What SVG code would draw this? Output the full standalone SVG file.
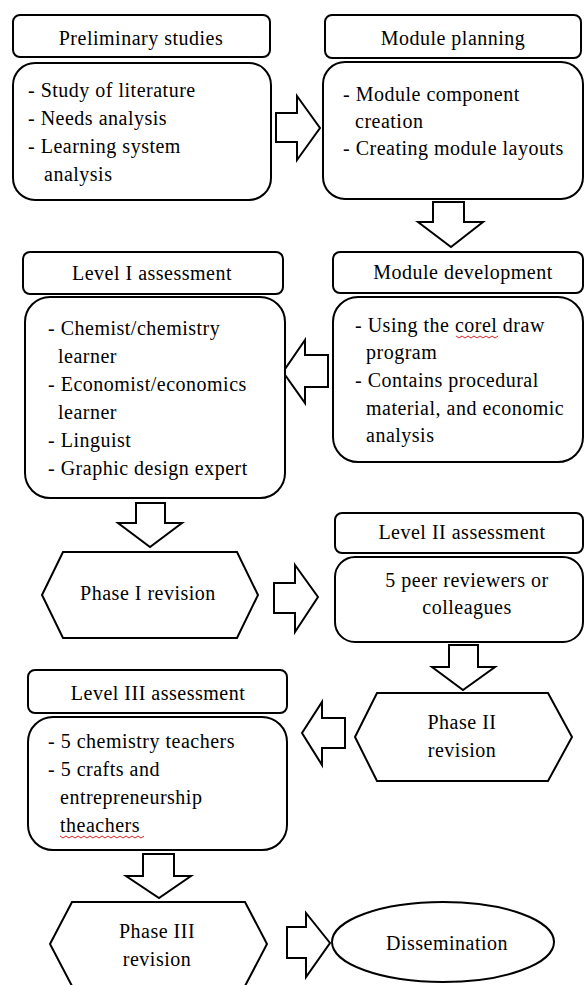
<svg xmlns="http://www.w3.org/2000/svg" width="585" height="985" viewBox="0 0 585 985">
<style>
.b{fill:#fff;stroke:#000;stroke-width:2}
.a{fill:#fff;stroke:#000;stroke-width:2;stroke-linejoin:miter}
text{font-family:"Liberation Serif","Times New Roman",serif;font-size:20px;fill:#000;letter-spacing:0.5px}
.c{text-anchor:middle}
.sq{fill:none;stroke:#e02020;stroke-width:1}
</style>
<rect width="585" height="985" fill="#fff"/>
<g id="connectors">
<polygon class="a" points="276,113 297,113 297,96 320,128 297,160 297,142 276,142"/>
<polygon class="a" points="433,202 464,202 464,222 483,222 451,247 418,222 433,222"/>
<polygon class="a" points="328,355 305,355 305,340 283,372 305,403 305,387 328,387"/>
<polygon class="a" points="136,503 165,503 165,523 182,523 150,547 118,523 136,523"/>
<polygon class="a" points="274,583 295,583 295,565 318,597 295,632 295,613 274,613"/>
<polygon class="a" points="449,645 478,645 478,667 495,667 463,690 432,667 449,667"/>
<polygon class="a" points="345,718 322,718 322,702 302,733 322,765 322,748 345,748"/>
<polygon class="a" points="143,854 174,854 174,876 191,876 159,898 126,876 143,876"/>
<polygon class="a" points="287,927 306,927 306,913 330,943 306,977 306,958 287,958"/>
</g>
<g id="preliminary">
<rect class="b" x="13" y="15" width="257" height="42" rx="7"/>
<text class="c" x="141" y="45">Preliminary studies</text>
<rect class="b" x="13" y="63" width="258" height="137" rx="22"/>
<text x="28" y="97">- Study of literature</text>
<text x="28" y="125">- Needs analysis</text>
<text x="28" y="153">- Learning system</text>
<text x="44" y="181">analysis</text>
</g>
<g id="planning">
<rect class="b" x="325" y="15" width="256" height="43" rx="7"/>
<text class="c" x="453" y="45">Module planning</text>
<rect class="b" x="323" y="62" width="260" height="137" rx="22"/>
<text x="343" y="101">- Module component</text>
<text x="355" y="128">creation</text>
<text x="343" y="155">- Creating module layouts</text>
</g>
<g id="level1">
<rect class="b" x="23" y="252" width="260" height="42" rx="7"/>
<text class="c" x="152" y="280">Level I assessment</text>
<rect class="b" x="25" y="297" width="260" height="201" rx="25"/>
<text x="48" y="335">- Chemist/chemistry</text>
<text x="58" y="363">learner</text>
<text x="48" y="391">- Economist/economics</text>
<text x="58" y="419">learner</text>
<text x="48" y="447">- Linguist</text>
<text x="48" y="475">- Graphic design expert</text>
</g>
<g id="development">
<rect class="b" x="333" y="252" width="250" height="41" rx="7"/>
<text class="c" x="463" y="279">Module development</text>
<rect class="b" x="333" y="297" width="250" height="165" rx="25"/>
<text x="355" y="332">- Using the corel draw</text>
<path class="sq" d="M456,336 l3,2 l3,-2 l3,2 l3,-2 l3,2 l3,-2 l3,2 l3,-2 l3,2 l3,-2 l3,2 l3,-2 l3,2 l3,-2"/>
<text x="366" y="359">program</text>
<text x="355" y="387">- Contains procedural</text>
<text x="366" y="415">material, and economic</text>
<text x="366" y="442">analysis</text>
</g>
<g id="phase1">
<polygon class="b" points="42,595 63,552 237,552 258,595 237,638 63,638"/>
<text class="c" x="148" y="600">Phase I revision</text>
</g>
<g id="level2">
<rect class="b" x="335" y="513" width="248" height="40" rx="7"/>
<text class="c" x="462" y="539">Level II assessment</text>
<rect class="b" x="335" y="557" width="248" height="85" rx="20"/>
<text class="c" x="467" y="587">5 peer reviewers or</text>
<text class="c" x="467" y="614">colleagues</text>
</g>
<g id="phase2">
<polygon class="b" points="355,737 377,693 548,693 572,737 548,781 377,781"/>
<text class="c" x="462" y="729">Phase II</text>
<text class="c" x="462" y="757">revision</text>
</g>
<g id="level3">
<rect class="b" x="28" y="670" width="259" height="43" rx="7"/>
<text class="c" x="158" y="700">Level III assessment</text>
<rect class="b" x="28" y="717" width="259" height="133" rx="25"/>
<text x="48" y="748">- 5 chemistry teachers</text>
<text x="48" y="776">- 5 crafts and</text>
<text x="60" y="804">entrepreneurship</text>
<text x="60" y="832">theachers</text>
<path class="sq" d="M60,836 l3,2 l3,-2 l3,2 l3,-2 l3,2 l3,-2 l3,2 l3,-2 l3,2 l3,-2 l3,2 l3,-2 l3,2 l3,-2 l3,2 l3,-2 l3,2 l3,-2 l3,2 l3,-2 l3,2 l3,-2 l3,2 l3,-2 l3,2 l3,-2 l3,2 l3,-2"/>
</g>
<g id="phase3">
<polygon class="b" points="50,944 72,902 245,902 267,944 245,986 72,986"/>
<text class="c" x="157" y="938">Phase III</text>
<text class="c" x="157" y="966">revision</text>
</g>
<g id="dissemination">
<ellipse class="b" cx="443" cy="942" rx="111" ry="40"/>
<text class="c" x="447" y="950">Dissemination</text>
</g>
</svg>
